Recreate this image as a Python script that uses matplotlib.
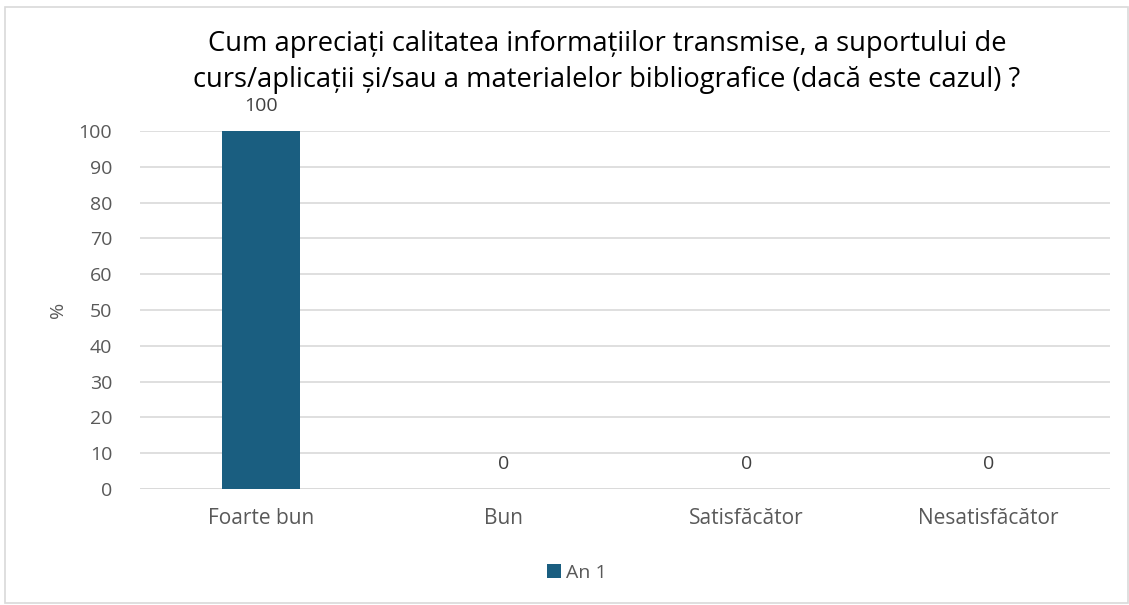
import matplotlib
matplotlib.use("Agg")
import matplotlib.pyplot as plt
from matplotlib.patches import Rectangle

categories = ["Foarte bun", "Bun", "Satisfăcător", "Nesatisfăcător"]
values = [100, 0, 0, 0]
series_name = "An 1"
yticks = [0, 10, 20, 30, 40, 50, 60, 70, 80, 90, 100]
title = ("Cum apreciați calitatea informațiilor transmise, a suportului de\n"
         "curs/aplicații și/sau a materialelor bibliografice (dacă este cazul) ?")

plt.rcParams["font.family"] = ["Open Sans", "DejaVu Sans"]

bar_color = "#1A5E80"
text_gray = "#595959"
grid_gray = "#D9D9D9"

fig = plt.figure(figsize=(11.29, 6.05), dpi=100)
W, H = 1129, 605
ax = fig.add_axes([140 / W, 1 - 489 / H, 970 / W, 358 / H])

x = range(len(categories))
bars = ax.bar(x, values, width=0.32, color=bar_color, label=series_name, zorder=3)

ax.set_xlim(-0.5, len(categories) - 0.5)
ax.set_ylim(0, 100)
ax.set_yticks(yticks)
ax.set_xticks(list(x))
ax.set_xticklabels(categories)
ax.tick_params(axis="y", length=0, labelsize=14, colors=text_gray, pad=20)
ax.tick_params(axis="x", length=0, labelsize=15, colors=text_gray, pad=14)
ax.yaxis.grid(True, color=grid_gray, linewidth=1.2, zorder=0)
for s in ax.spines.values():
    s.set_visible(False)
ax.axhline(0, color=grid_gray, linewidth=1.2, zorder=1)

for xi, v in zip(x, values):
    ax.annotate(f"{v}", (xi, v), xytext=(0, 11.5), textcoords="offset points",
                ha="center", va="bottom", fontsize=14, color="#404040")

ax.set_ylabel("%", fontsize=14, color=text_gray, labelpad=8)

fig.text(607 / W, 1 - 62 / H, title, ha="center", va="center", fontsize=19.7,
         color="#000000", linespacing=1.35)

leg = fig.legend(handles=[bars], labels=[series_name], loc="center",
                 bbox_to_anchor=(577 / W, 1 - 573 / H), frameon=False,
                 fontsize=14, handlelength=0.7, handleheight=0.7,
                 handletextpad=0.3, labelcolor=text_gray)

fig.patches.append(Rectangle((5 / W, 2 / H), 1 - 6 / W, 1 - 9 / H,
                             transform=fig.transFigure, fill=False,
                             edgecolor=grid_gray, linewidth=1.2))

fig.savefig("out.png", dpi=100, facecolor="white")
